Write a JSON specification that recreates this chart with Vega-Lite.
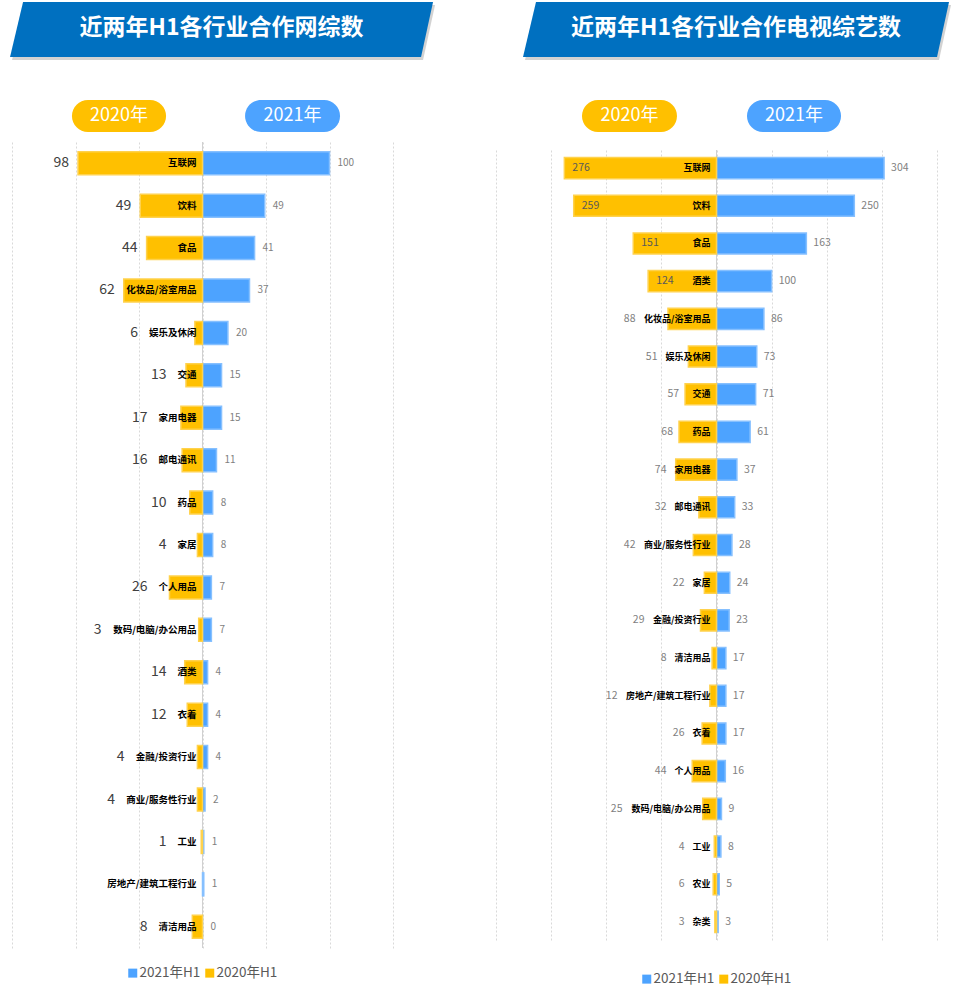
{
  "$schema": "https://vega.github.io/schema/vega-lite/v6.json",
  "background": "white",
  "padding": {"left": 10, "top": 2, "right": 5, "bottom": 5},
  "spacing": 60,
  "resolve": {"scale": {"color": "independent"}, "legend": {"color": "independent"}},
  "config": {
    "view": {"stroke": null},
    "font": "Noto Sans CJK SC",
    "text": {"font": "Noto Sans CJK SC"}
  },
  "hconcat": [
    {
      "spacing": 0,
      "bounds": "flush",
      "resolve": {"scale": {"color": "independent"}, "legend": {"color": "independent"}},
      "vconcat": [
        {
          "width": 381,
          "height": 140,
          "data": {"values": [{}]},
          "layer": [
            {
              "mark": {"type": "point", "shape": "M -0.9385 -0.13 L 1 -0.13 L 0.9433 0.13 L -1 0.13 Z", "size": 178929, "filled": true, "fill": "#7f7f7f", "opacity": 0.35, "strokeWidth": 0, "xOffset": 2, "yOffset": 3},
              "encoding": {
                "x": {"datum": 15, "type": "quantitative", "scale": {"domain": [-150, 150], "nice": false}, "axis": null},
                "y": {"datum": 19.64, "type": "quantitative", "scale": {"domain": [0, 100], "nice": false, "reverse": true}, "axis": null}
              }
            },
            {
              "mark": {"type": "point", "shape": "M -0.9385 -0.13 L 1 -0.13 L 0.9433 0.13 L -1 0.13 Z", "size": 178929, "filled": true, "fill": "#0070C0", "opacity": 1, "strokeWidth": 0},
              "encoding": {
                "x": {"datum": 15, "type": "quantitative"},
                "y": {"datum": 19.64, "type": "quantitative"}
              }
            },
            {
              "mark": {"type": "text", "align": "center", "baseline": "middle", "fontSize": 23, "fontWeight": "bold", "color": "#ffffff"},
              "encoding": {
                "x": {"datum": 15, "type": "quantitative"},
                "y": {"datum": 18.9, "type": "quantitative"},
                "text": {"value": "近两年H1各行业合作网综数"}
              }
            },
            {
              "mark": {"type": "rect", "cornerRadius": 16, "color": "#FFC000"},
              "encoding": {
                "x": {"datum": -102.8, "type": "quantitative"},
                "x2": {"datum": -28.7},
                "y": {"datum": 70, "type": "quantitative"},
                "y2": {"datum": 92.86}
              }
            },
            {
              "mark": {"type": "rect", "cornerRadius": 16, "color": "#4DA3FF"},
              "encoding": {
                "x": {"datum": 33.5, "type": "quantitative"},
                "x2": {"datum": 108.3},
                "y": {"datum": 70, "type": "quantitative"},
                "y2": {"datum": 92.86}
              }
            },
            {
              "mark": {"type": "text", "align": "center", "baseline": "middle", "fontSize": 18, "color": "#ffffff"},
              "encoding": {
                "x": {"datum": -65.7, "type": "quantitative"},
                "y": {"datum": 81.4, "type": "quantitative"},
                "text": {"value": "2020年"}
              }
            },
            {
              "mark": {"type": "text", "align": "center", "baseline": "middle", "fontSize": 18, "color": "#ffffff"},
              "encoding": {
                "x": {"datum": 70.9, "type": "quantitative"},
                "y": {"datum": 81.4, "type": "quantitative"},
                "text": {"value": "2021年"}
              }
            }
          ]
        },
        {
          "width": 381,
          "height": 806,
          "data": {
            "values": [
              {"c": "互联网", "a": 100, "b": 98},
              {"c": "饮料", "a": 49, "b": 49},
              {"c": "食品", "a": 41, "b": 44},
              {"c": "化妆品/浴室用品", "a": 37, "b": 62},
              {"c": "娱乐及休闲", "a": 20, "b": 6},
              {"c": "交通", "a": 15, "b": 13},
              {"c": "家用电器", "a": 15, "b": 17},
              {"c": "邮电通讯", "a": 11, "b": 16},
              {"c": "药品", "a": 8, "b": 10},
              {"c": "家居", "a": 8, "b": 4},
              {"c": "个人用品", "a": 7, "b": 26},
              {"c": "数码/电脑/办公用品", "a": 7, "b": 3},
              {"c": "酒类", "a": 4, "b": 14},
              {"c": "衣着", "a": 4, "b": 12},
              {"c": "金融/投资行业", "a": 4, "b": 4},
              {"c": "商业/服务性行业", "a": 2, "b": 4},
              {"c": "工业", "a": 1, "b": 1},
              {"c": "房地产/建筑工程行业", "a": 1, "b": null},
              {"c": "清洁用品", "a": 0, "b": 8}
            ]
          },
          "transform": [
            {"calculate": "isValid(datum.b) ? -datum.b : null", "as": "nb"},
            {"calculate": "length(datum.c) * 9.5 - 5.5 * (length(split(datum.c, '/')) - 1)", "as": "lw"},
            {"calculate": "-max((datum.b || 0) * 1.27 + 9, datum.lw + 17) / 1.27", "as": "pb"}
          ],
          "layer": [
            {
              "data": {"values": [{}]},
              "mark": {"type": "rule", "color": "#d0d0d0", "strokeWidth": 1},
              "encoding": {
                "x": {"datum": 0, "type": "quantitative", "scale": {"domain": [-150, 150], "nice": false},
                  "axis": {"values": [-150, -100, -50, 0, 50, 100, 150], "grid": true, "labels": false, "ticks": false, "domain": false, "title": null, "gridColor": "#d9d9d9", "gridDash": [2, 2]}}
              }
            },
            {
              "mark": {"type": "bar", "stroke": "#86c0ff", "strokeWidth": 1.5},
              "encoding": {
                "y": {"field": "c", "type": "nominal", "sort": null, "axis": null, "scale": {"paddingInner": 0.458, "paddingOuter": 0.229}},
                "x": {"field": "a", "type": "quantitative"},
                "color": {"datum": "2021年H1", "type": "nominal",
                  "scale": {"domain": ["2021年H1", "2020年H1"], "range": ["#4DA3FF", "#FFC000"]},
                  "legend": {"orient": "none", "legendX": 114, "legendY": 824, "direction": "horizontal", "title": null, "symbolType": "square", "symbolSize": 81, "symbolStrokeWidth": 0, "labelFontSize": 13.5, "labelColor": "#595959", "labelFont": "Noto Sans CJK SC", "columnPadding": 2, "labelOffset": 0, "padding": 0}}
              }
            },
            {
              "mark": {"type": "bar", "stroke": "#ffd24d", "strokeWidth": 1.5},
              "encoding": {
                "y": {"field": "c", "type": "nominal", "sort": null},
                "x": {"field": "nb", "type": "quantitative"},
                "color": {"datum": "2020年H1", "type": "nominal"}
              }
            },
            {
              "mark": {"type": "text", "align": "right", "baseline": "middle", "dx": -6, "fontSize": 9.5, "fontWeight": "bold", "color": "#000000"},
              "encoding": {
                "y": {"field": "c", "type": "nominal", "sort": null},
                "x": {"datum": 0, "type": "quantitative"},
                "text": {"field": "c"}
              }
            },
            {
              "mark": {"type": "text", "align": "left", "baseline": "middle", "dx": 8, "fontSize": 10, "color": "#7f7f7f"},
              "encoding": {
                "y": {"field": "c", "type": "nominal", "sort": null},
                "x": {"field": "a", "type": "quantitative"},
                "text": {"field": "a"}
              }
            },
            {
              "transform": [{"filter": "isValid(datum.b)"}],
              "mark": {"type": "text", "align": "right", "baseline": "middle", "fontSize": 14, "color": "#404040"},
              "encoding": {
                "y": {"field": "c", "type": "nominal", "sort": null},
                "x": {"field": "pb", "type": "quantitative"},
                "text": {"field": "b"}
              }
            }
          ]
        }
      ]
    },
    {
      "spacing": 0,
      "bounds": "flush",
      "resolve": {"scale": {"color": "independent"}, "legend": {"color": "independent"}},
      "vconcat": [
        {
          "width": 441,
          "height": 148,
          "data": {"values": [{}]},
          "layer": [
            {
              "mark": {"type": "point", "shape": "M -0.939 -0.1291 L 1 -0.1291 L 0.9437 0.1291 L -1 0.1291 Z", "size": 181476, "filled": true, "fill": "#7f7f7f", "opacity": 0.35, "strokeWidth": 0, "xOffset": 2, "yOffset": 3},
              "encoding": {
                "x": {"datum": 35.4, "type": "quantitative", "scale": {"domain": [-400, 400], "nice": false}, "axis": null},
                "y": {"datum": 18.6, "type": "quantitative", "scale": {"domain": [0, 100], "nice": false, "reverse": true}, "axis": null}
              }
            },
            {
              "mark": {"type": "point", "shape": "M -0.939 -0.1291 L 1 -0.1291 L 0.9437 0.1291 L -1 0.1291 Z", "size": 181476, "filled": true, "fill": "#0070C0", "opacity": 1, "strokeWidth": 0},
              "encoding": {
                "x": {"datum": 35.4, "type": "quantitative"},
                "y": {"datum": 18.6, "type": "quantitative"}
              }
            },
            {
              "mark": {"type": "text", "align": "center", "baseline": "middle", "fontSize": 23, "fontWeight": "bold", "color": "#ffffff"},
              "encoding": {
                "x": {"datum": 35.4, "type": "quantitative"},
                "y": {"datum": 17.9, "type": "quantitative"},
                "text": {"value": "近两年H1各行业合作电视综艺数"}
              }
            },
            {
              "mark": {"type": "rect", "cornerRadius": 16, "color": "#FFC000"},
              "encoding": {
                "x": {"datum": -244, "type": "quantitative"},
                "x2": {"datum": -71.7},
                "y": {"datum": 66.2, "type": "quantitative"},
                "y2": {"datum": 87.8}
              }
            },
            {
              "mark": {"type": "rect", "cornerRadius": 16, "color": "#4DA3FF"},
              "encoding": {
                "x": {"datum": 55.3, "type": "quantitative"},
                "x2": {"datum": 225.9},
                "y": {"datum": 66.2, "type": "quantitative"},
                "y2": {"datum": 87.8}
              }
            },
            {
              "mark": {"type": "text", "align": "center", "baseline": "middle", "fontSize": 18, "color": "#ffffff"},
              "encoding": {
                "x": {"datum": -157.8, "type": "quantitative"},
                "y": {"datum": 77, "type": "quantitative"},
                "text": {"value": "2020年"}
              }
            },
            {
              "mark": {"type": "text", "align": "center", "baseline": "middle", "fontSize": 18, "color": "#ffffff"},
              "encoding": {
                "x": {"datum": 140.6, "type": "quantitative"},
                "y": {"datum": 77, "type": "quantitative"},
                "text": {"value": "2021年"}
              }
            }
          ]
        },
        {
          "width": 441,
          "height": 790,
          "data": {
            "values": [
              {"c": "互联网", "a": 304, "b": 276},
              {"c": "饮料", "a": 250, "b": 259},
              {"c": "食品", "a": 163, "b": 151},
              {"c": "酒类", "a": 100, "b": 124},
              {"c": "化妆品/浴室用品", "a": 86, "b": 88},
              {"c": "娱乐及休闲", "a": 73, "b": 51},
              {"c": "交通", "a": 71, "b": 57},
              {"c": "药品", "a": 61, "b": 68},
              {"c": "家用电器", "a": 37, "b": 74},
              {"c": "邮电通讯", "a": 33, "b": 32},
              {"c": "商业/服务性行业", "a": 28, "b": 42},
              {"c": "家居", "a": 24, "b": 22},
              {"c": "金融/投资行业", "a": 23, "b": 29},
              {"c": "清洁用品", "a": 17, "b": 8},
              {"c": "房地产/建筑工程行业", "a": 17, "b": 12},
              {"c": "衣着", "a": 17, "b": 26},
              {"c": "个人用品", "a": 16, "b": 44},
              {"c": "数码/电脑/办公用品", "a": 9, "b": 25},
              {"c": "工业", "a": 8, "b": 4},
              {"c": "农业", "a": 5, "b": 6},
              {"c": "杂类", "a": 3, "b": 3}
            ]
          },
          "transform": [
            {"calculate": "-datum.b", "as": "nb"},
            {"calculate": "length(datum.c) * 9 - 5 * (length(split(datum.c, '/')) - 1)", "as": "lw"},
            {"calculate": "datum.b * 0.55125 > datum.lw + 46", "as": "inside"},
            {"calculate": "datum.inside ? -datum.b : -max(datum.b * 0.55125 + 6, datum.lw + 14) / 0.55125", "as": "pb"}
          ],
          "layer": [
            {
              "data": {"values": [{}]},
              "mark": {"type": "rule", "color": "#d0d0d0", "strokeWidth": 1},
              "encoding": {
                "x": {"datum": 0, "type": "quantitative", "scale": {"domain": [-400, 400], "nice": false},
                  "axis": {"values": [-400, -300, -200, -100, 0, 100, 200, 300, 400], "grid": true, "labels": false, "ticks": false, "domain": false, "title": null, "gridColor": "#d9d9d9", "gridDash": [2, 2]}}
              }
            },
            {
              "mark": {"type": "bar", "stroke": "#86c0ff", "strokeWidth": 1.5},
              "encoding": {
                "y": {"field": "c", "type": "nominal", "sort": null, "axis": null, "scale": {"paddingInner": 0.44, "paddingOuter": 0.2}},
                "x": {"field": "a", "type": "quantitative"},
                "color": {"datum": "2021年H1", "type": "nominal",
                  "scale": {"domain": ["2021年H1", "2020年H1"], "range": ["#4DA3FF", "#FFC000"]},
                  "legend": {"orient": "none", "legendX": 144, "legendY": 822, "direction": "horizontal", "title": null, "symbolType": "square", "symbolSize": 81, "symbolStrokeWidth": 0, "labelFontSize": 13.5, "labelColor": "#595959", "labelFont": "Noto Sans CJK SC", "columnPadding": 2, "labelOffset": 0, "padding": 0}}
              }
            },
            {
              "mark": {"type": "bar", "stroke": "#ffd24d", "strokeWidth": 1.5},
              "encoding": {
                "y": {"field": "c", "type": "nominal", "sort": null},
                "x": {"field": "nb", "type": "quantitative"},
                "color": {"datum": "2020年H1", "type": "nominal"}
              }
            },
            {
              "mark": {"type": "text", "align": "right", "baseline": "middle", "dx": -6, "fontSize": 9, "fontWeight": "bold", "color": "#000000"},
              "encoding": {
                "y": {"field": "c", "type": "nominal", "sort": null},
                "x": {"datum": 0, "type": "quantitative"},
                "text": {"field": "c"}
              }
            },
            {
              "mark": {"type": "text", "align": "left", "baseline": "middle", "dx": 7, "fontSize": 10.5, "color": "#7f7f7f"},
              "encoding": {
                "y": {"field": "c", "type": "nominal", "sort": null},
                "x": {"field": "a", "type": "quantitative"},
                "text": {"field": "a"}
              }
            },
            {
              "transform": [{"filter": "datum.inside"}],
              "mark": {"type": "text", "align": "left", "baseline": "middle", "dx": 8, "fontSize": 10.5, "color": "#595959"},
              "encoding": {
                "y": {"field": "c", "type": "nominal", "sort": null},
                "x": {"field": "pb", "type": "quantitative"},
                "text": {"field": "b"}
              }
            },
            {
              "transform": [{"filter": "!datum.inside"}],
              "mark": {"type": "text", "align": "right", "baseline": "middle", "fontSize": 10.5, "color": "#7f7f7f"},
              "encoding": {
                "y": {"field": "c", "type": "nominal", "sort": null},
                "x": {"field": "pb", "type": "quantitative"},
                "text": {"field": "b"}
              }
            }
          ]
        }
      ]
    }
  ]
}
